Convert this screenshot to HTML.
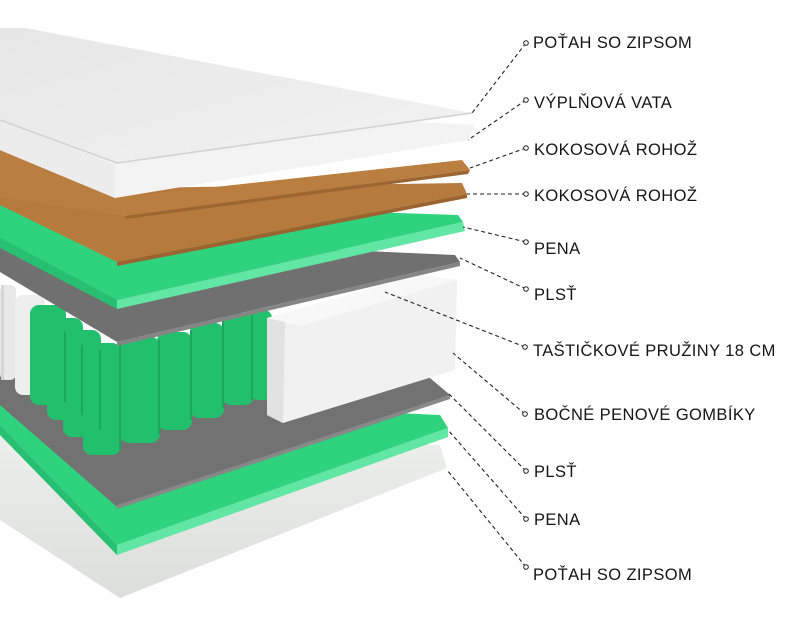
<!DOCTYPE html>
<html><head><meta charset="utf-8"><style>
html,body{margin:0;padding:0;background:#fff;width:800px;height:622px;overflow:hidden}
svg{display:block}
text{font-family:"Liberation Sans",sans-serif;font-size:16.5px;fill:#151515;letter-spacing:0.4px}
</style></head><body>
<svg width="800" height="622" viewBox="0 0 800 622" xmlns="http://www.w3.org/2000/svg">
<defs>
<linearGradient id="bc" x1="0" y1="0" x2="0" y2="1"><stop offset="0" stop-color="#eef0ee"/><stop offset="1" stop-color="#dcdedc"/></linearGradient>
<linearGradient id="cv" x1="0" y1="0" x2="1" y2="1"><stop offset="0" stop-color="#e6e6e6"/><stop offset="1" stop-color="#f3f3f3"/></linearGradient>
</defs>
<!-- bottom cover -->
<polygon points="0,425 440,445 447,468 120,598 0,520" fill="url(#bc)"/>
<!-- green 2 -->
<polygon points="0,395 440,415 448,428 117,545 0,425" fill="#2fd27d"/>
<polygon points="448,428 448,437 117,555 117,545" fill="#62e6a3"/>
<polygon points="0,425 117,545 117,555 0,435" fill="#27c070"/>
<!-- felt 2 -->
<polygon points="0,350 430,378 450,395 117,507 0,405" fill="#727272"/>
<polygon points="450,395 450,399 117,509 117,505" fill="#888"/>
<!-- white springs -->
<rect x="0" y="285" width="16" height="95" rx="6" fill="#e8e8e8"/>
<rect x="15" y="295" width="30" height="100" rx="8" fill="#eeeeee"/>
<rect x="1" y="285" width="3" height="95" fill="#d5d5d5"/>
<!-- green springs -->
<g fill="#22c06c">
<rect x="30" y="305" width="36" height="100" rx="9"/>
<rect x="47" y="318" width="36" height="102" rx="9"/>
<rect x="63" y="330" width="38" height="107" rx="9"/>
<rect x="250" y="310" width="22" height="90" rx="8"/>
<rect x="222" y="313" width="32" height="92" rx="9"/>
<rect x="190" y="323" width="34" height="95" rx="9"/>
<rect x="157" y="332" width="35" height="98" rx="9"/>
<rect x="120" y="337" width="40" height="106" rx="9"/>
<rect x="83" y="343" width="38" height="112" rx="9"/>
</g>
<g fill="#1aa85c">
<rect x="64" y="332" width="2" height="70"/><rect x="81" y="345" width="2" height="70"/><rect x="99" y="350" width="2" height="80"/>
<rect x="119" y="345" width="2" height="105"/><rect x="158" y="340" width="2" height="95"/><rect x="190" y="330" width="2" height="90"/><rect x="222" y="320" width="2" height="88"/><rect x="251" y="315" width="2" height="85"/>
</g>
<!-- side foam block -->
<polygon points="267,318 420,275 457,280 455,370 283,423 267,415" fill="#f1f1f1"/>
<polygon points="267,318 420,275 457,280 300,326 285,322" fill="#f8f8f8"/>
<polygon points="267,318 285,322 283,423 267,415" fill="#e2e2e2"/>
<!-- felt 1 -->
<polygon points="0,235 455,255 460,262 117,342 0,272" fill="#707070"/>
<polygon points="460,262 460,266 117,346 117,342" fill="#858585"/>
<!-- green 1 -->
<polygon points="0,200 458,215 463,222 117,300 0,238" fill="#2fd27d"/>
<polygon points="463,222 465,231 117,309 117,300" fill="#62e6a3"/>
<polygon points="0,238 117,300 117,309 0,248" fill="#27c070"/>
<!-- coco 2 -->
<polygon points="0,190 462,183 467,194 117,262 0,205" fill="#b57a3c"/>
<polygon points="467,194 467,198 117,266 117,262" fill="#9a6330"/>
<!-- coco 1 -->
<polygon points="0,150 115,198 462,160 470,170 125,216 0,197" fill="#ba7e40"/>
<polygon points="470,170 468,174 125,219 125,216" fill="#9c6531"/>
<!-- vata -->
<polygon points="0,100 475,125 468,140 115,198 0,150" fill="#f3f3f3"/>
<polygon points="0,118 115,165 115,198 0,150" fill="#ececec"/>
<!-- cover top -->
<polygon points="0,28 25,28 472,113 117,163 0,120" fill="url(#cv)"/>
<polyline points="0,120 117,163 472,113" fill="none" stroke="#d2d2d2" stroke-width="1.5"/>
<!-- connectors -->
<g stroke="#222" stroke-width="1.1" stroke-dasharray="4,3" fill="none">
<line x1="526" y1="43" x2="472" y2="113"/>
<line x1="526" y1="100" x2="468" y2="140"/>
<line x1="526" y1="148" x2="470" y2="168"/>
<line x1="526" y1="194" x2="467" y2="194"/>
<line x1="526" y1="242" x2="463" y2="227"/>
<line x1="526" y1="289" x2="460" y2="258"/>
<line x1="525" y1="347" x2="385" y2="292"/>
<line x1="525" y1="414" x2="453" y2="353"/>
<line x1="526" y1="471" x2="448" y2="393"/>
<line x1="526" y1="519" x2="448" y2="430"/>
<line x1="526" y1="567" x2="447" y2="470"/>
</g>
<g fill="#fff" stroke="#222" stroke-width="1">
<circle cx="526" cy="43" r="2.3"/><circle cx="526" cy="100" r="2.3"/><circle cx="526" cy="148" r="2.3"/><circle cx="526" cy="194" r="2.3"/><circle cx="526" cy="242" r="2.3"/><circle cx="526" cy="289" r="2.3"/><circle cx="525" cy="347" r="2.3"/><circle cx="525" cy="414" r="2.3"/><circle cx="526" cy="471" r="2.3"/><circle cx="526" cy="519" r="2.3"/><circle cx="526" cy="567" r="2.3"/>
</g>
<text x="533" y="48">POŤAH SO ZIPSOM</text>
<text x="534" y="108">VÝPLŇOVÁ VATA</text>
<text x="534" y="155">KOKOSOVÁ ROHOŽ</text>
<text x="534" y="201">KOKOSOVÁ ROHOŽ</text>
<text x="534" y="254">PENA</text>
<text x="534" y="300">PLSŤ</text>
<text x="533" y="356">TAŠTIČKOVÉ PRUŽINY 18 CM</text>
<text x="534" y="420">BOČNÉ PENOVÉ GOMBÍKY</text>
<text x="534" y="477">PLSŤ</text>
<text x="534" y="525">PENA</text>
<text x="533" y="580">POŤAH SO ZIPSOM</text>
</svg>
</body></html>
